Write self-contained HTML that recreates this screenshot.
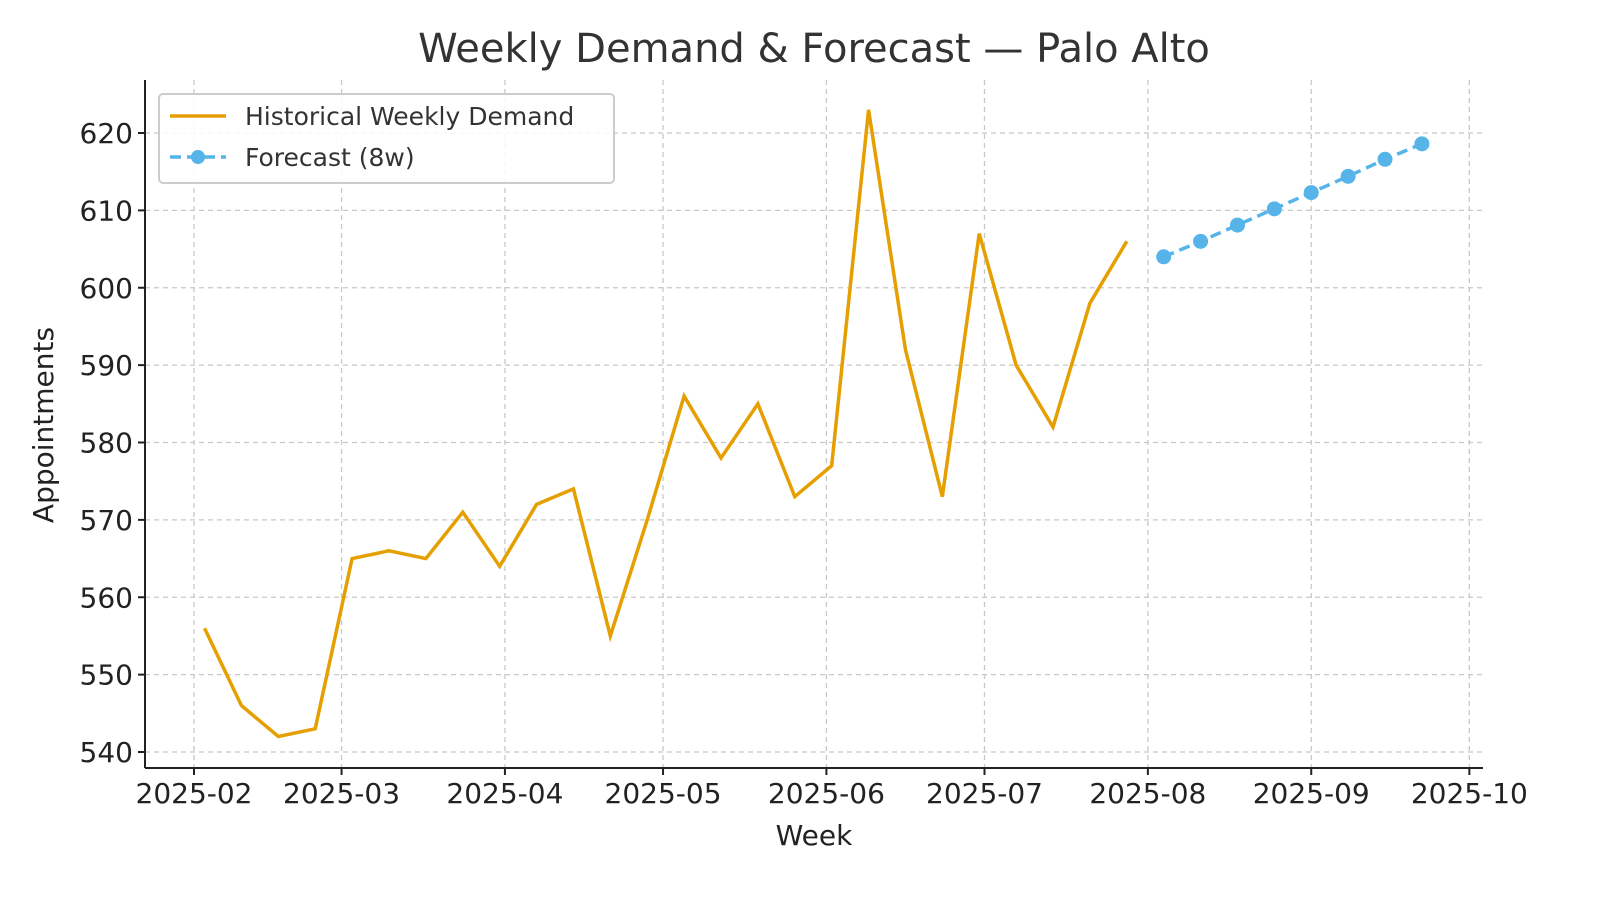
<!DOCTYPE html>
<html><head><meta charset="utf-8"><style>
html,body{margin:0;padding:0;background:#fff;}
svg{display:block;font-family:"DejaVu Sans","Liberation Sans",sans-serif;}
</style></head><body>
<svg id="chart" width="1600" height="900" viewBox="0 0 1600 900">
<text x="814" y="62" text-anchor="middle" font-size="40" fill="#333">Weekly Demand &amp; Forecast — Palo Alto</text>
<g id="grid"></g>
<g id="axes"></g>
<g id="series"></g>
<text x="814" y="845" text-anchor="middle" font-size="28" fill="#222">Week</text>
<text transform="translate(53,425) rotate(-90)" text-anchor="middle" font-size="28" fill="#222">Appointments</text>
<g>
<rect x="159" y="94" width="455" height="89" rx="4" fill="#fff" fill-opacity="0.85" stroke="#ccc" stroke-width="2"/>
<g>
<line x1="170" y1="116" x2="226" y2="116" stroke="#E69F00" stroke-width="3.5"/>
<text x="245" y="125" font-size="25" fill="#333">Historical Weekly Demand</text></g>
<g>
<line x1="170" y1="157" x2="226" y2="157" stroke="#56B4E9" stroke-width="3.5" stroke-dasharray="11,6"/>
<circle cx="198" cy="157" r="7" fill="#56B4E9"/>
<text x="245" y="166" font-size="25" fill="#333">Forecast (8w)</text></g>
</g>
</svg>
<script>
const histValues=[556,546,542,543,565,566,565,571,564,572,574,555,570,586,578,585,573,577,623,592,573,607,590,582,598,606];
const histStart="2025-02-03";
const fcValues=[604,606,608.1,610.2,612.3,614.4,616.6,618.6];
const fcStart="2025-08-04";
const yTicks=[540,550,560,570,580,590,600,610,620];
const xTickLabels=["2025-02","2025-03","2025-04","2025-05","2025-06","2025-07","2025-08","2025-09","2025-10"];

const NS="http://www.w3.org/2000/svg";
const L=145,R=1483,T=80,B=768;
const day0=Date.UTC(2025,1,1);
const x=d=>194+((d-day0)/86400000)*5.27;
const y=v=>752-(v-540)*7.7375;
const parse=s=>{const p=s.split("-").map(Number);return Date.UTC(p[0],p[1]-1,p[2]||1);};
function mk(tag,attrs,parent){const e=document.createElementNS(NS,tag);for(const k in attrs)e.setAttribute(k,attrs[k]);parent.appendChild(e);return e;}
const grid=document.getElementById("grid"),axes=document.getElementById("axes"),series=document.getElementById("series");
yTicks.forEach(v=>{
 const g=mk("line",{x1:L,x2:R,y1:y(v),y2:y(v),stroke:"#c8c8c8","stroke-width":1.3,"stroke-dasharray":"5,4"},grid);
 
 
 mk("line",{x1:L-7,x2:L,y1:y(v),y2:y(v),stroke:"#222","stroke-width":2},axes);
 const t=mk("text",{x:L-12,y:y(v)+10,"text-anchor":"end","font-size":28,fill:"#222"},axes);
 t.textContent=v;
 
 
});
xTickLabels.forEach(s=>{
 const xx=x(parse(s));
 const g=mk("line",{x1:xx,x2:xx,y1:T,y2:B,stroke:"#c8c8c8","stroke-width":1.3,"stroke-dasharray":"5,4"},grid);
 
 
 mk("line",{x1:xx,x2:xx,y1:B,y2:B+7,stroke:"#222","stroke-width":2},axes);
 const t=mk("text",{x:xx,y:B+35,"text-anchor":"middle","font-size":28,fill:"#222"},axes);
 t.textContent=s;
 
 
});
mk("line",{x1:L,x2:L,y1:T,y2:B,stroke:"#222","stroke-width":2},axes);
mk("line",{x1:L,x2:R,y1:B,y2:B,stroke:"#222","stroke-width":2},axes);
const hs=parse(histStart);
const hp=histValues.map((v,i)=>x(hs+i*7*86400000)+","+y(v)).join(" ");
const hl=mk("polyline",{points:hp,fill:"none",stroke:"#E69F00","stroke-width":3.5,"stroke-linejoin":"miter"},series);


const fs=parse(fcStart);
const fp=fcValues.map((v,i)=>[x(fs+i*7*86400000),y(v)]);
const fl=mk("polyline",{points:fp.map(p=>p.join(",")).join(" "),fill:"none",stroke:"#56B4E9","stroke-width":3.5,"stroke-dasharray":"11,6"},series);


fp.forEach(p=>{
 const c=mk("circle",{cx:p[0],cy:p[1],r:7.5,fill:"#56B4E9"},series);
 
 
});
</script>
</body></html>
